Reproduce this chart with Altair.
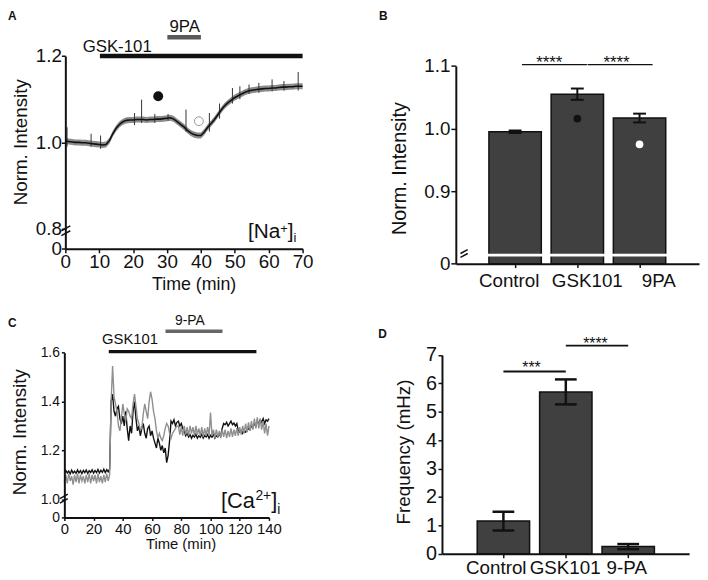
import altair as alt
import pandas as pd

W, H = 700, 572
FONT = "Liberation Sans"
INK = "#111111"
BAR = "#404040"

# ================= DATA =================
# ---- Panel A : [Na+]i imaging trace ----
a_time = list(range(0, 71))
a_norm = [1.003, 1.002, 1.001, 1.000, 1.000, 0.999, 0.999, 0.998, 0.997, 0.996, 0.995,
          0.994, 0.995, 1.004, 1.020, 1.033, 1.042, 1.048, 1.051, 1.052, 1.052,
          1.053, 1.053, 1.053, 1.052, 1.053, 1.053, 1.054, 1.054, 1.055, 1.056,
          1.057, 1.054, 1.048, 1.042, 1.036, 1.028, 1.022, 1.018, 1.016, 1.016,
          1.024, 1.035, 1.044, 1.053, 1.064, 1.075, 1.085, 1.092, 1.098, 1.104,
          1.108, 1.112, 1.116, 1.119, 1.121, 1.122, 1.123, 1.124, 1.125, 1.125,
          1.126, 1.126, 1.127, 1.128, 1.128, 1.129, 1.129, 1.130, 1.130, 1.130]
a_sem = 0.007
a_spike_t = [0.5, 7.6, 10.4, 20.4, 22.5, 26.4, 30.3, 35.6, 42.5, 45.5, 49.3, 51.5, 54.2, 57.1, 61.0, 64.5, 68.7]
a_spike_hi = [1.035, 1.020, 1.016, 1.068, 1.099, 1.066, 1.066, 1.076, 1.068, 1.090, 1.126, 1.130, 1.134, 1.138, 1.146, 1.142, 1.163]
a_spike_lo = [0.990, 0.990, 0.985, 1.040, 1.045, 1.045, 1.050, 1.025, 1.025, 1.055, 1.090, 1.100, 1.112, 1.115, 1.118, 1.120, 1.120]
a_tick_x = [0, 10, 20, 30, 40, 50, 60, 70]
a_tick_y = [0.7535, 0.8, 1.0, 1.2]
a_drug = ["GSK-101", "9PA"]
a_drug_on = [10.2, 30.1]
a_drug_off = [70.0, 40.0]
a_drug_lvl = [1.2, 1.2435]
a_drug_lbl_x = [15.3, 35.2]
a_drug_lbl_y = [1.2092, 1.255]
a_mark_t = [27.4, 39.4]
a_mark_v = [1.107, 1.049]
a_ion_txt = ["[Na", "+", "]", "i"]
a_ion_x = [53.9, 63.4, 65.6, 67.3]
a_ion_y = [0.7787, 0.790, 0.7787, 0.7686]
a_brk_x1 = [-1.17, -1.17]
a_brk_x2 = [1.46, 1.46]
a_brk_y1 = [0.7954, 0.7840]
a_brk_y2 = [0.8068, 0.7954]

# ---- Panel B : Norm. intensity bars ----
b_group = ["Control", "GSK101", "9PA"]
b_pos = [0, 1, 2]
b_mean = [0.995, 1.055, 1.017]
b_sem = [0.002, 0.009, 0.007]
b_base = 0.785
b_tick_y = [0.785, 0.9, 1.0, 1.1]
b_dot_pos = [1, 2]
b_dot_val = [1.016, 0.975]
b_dot_fill = [INK, "#ffffff"]
b_lbl_x = [-0.096, 1.16, 2.31]
b_lbl_y = 0.7472
b_sig_from = [0.11, 1.165]
b_sig_to = [1.154, 2.21]
b_sig_lvl = [1.102, 1.102]
b_star = ["****", "****"]
b_star_x = [0.55, 1.63]
b_star_y = [1.0965, 1.0965]
b_gap_lo, b_gap_hi = 0.7965, 0.8007
b_brk_x1 = [-0.878, -0.878]
b_brk_x2 = [-0.762, -0.762]
b_brk_y1 = [0.8012, 0.7949]
b_brk_y2 = [0.8075, 0.8012]

# ---- Panel C : [Ca2+]i traces ----
c_time = list(range(0, 141))
c_black = [1.106, 1.118, 1.108, 1.116, 1.104, 1.119, 1.107, 1.115, 1.106, 1.120, 1.108, 1.117, 1.105, 1.118, 1.109, 1.120,
           1.106, 1.117, 1.110, 1.121, 1.107, 1.118, 1.109, 1.122, 1.108, 1.119, 1.110, 1.123, 1.109, 1.121, 1.112,
           1.125, 1.400, 1.430, 1.360, 1.340, 1.370, 1.380, 1.330, 1.310, 1.340,
           1.300, 1.360, 1.290, 1.240, 1.300, 1.270, 1.360, 1.400, 1.330, 1.280,
           1.300, 1.260, 1.290, 1.310, 1.270, 1.250, 1.290, 1.300, 1.260, 1.280,
           1.250, 1.230, 1.210, 1.250, 1.230, 1.200, 1.220, 1.190, 1.210, 1.150,
           1.180, 1.240, 1.320, 1.310, 1.325, 1.300, 1.315, 1.320, 1.300, 1.310,
           1.290, 1.280, 1.260, 1.270, 1.255, 1.265, 1.250, 1.262, 1.255, 1.266,
           1.250, 1.260, 1.254, 1.266, 1.250, 1.261, 1.255, 1.265, 1.250, 1.262,
           1.254, 1.266, 1.250, 1.260, 1.255, 1.265, 1.260, 1.290, 1.310, 1.305,
           1.315, 1.300, 1.310, 1.320, 1.305, 1.312, 1.300, 1.310, 1.280, 1.275,
           1.282, 1.270, 1.285, 1.275, 1.280, 1.290, 1.285, 1.300, 1.295, 1.310,
           1.300, 1.320, 1.310, 1.325, 1.315, 1.330, 1.310, 1.325, 1.320, 1.330]
c_gray = [1.070, 1.100, 1.065, 1.105, 1.075, 1.095, 1.060, 1.100, 1.070, 1.105, 1.065, 1.100, 1.075, 1.095, 1.065, 1.100,
          1.070, 1.105, 1.065, 1.100, 1.075, 1.100, 1.065, 1.105, 1.070, 1.095, 1.065, 1.100, 1.070, 1.105, 1.075,
          1.100, 1.400, 1.545, 1.420, 1.390, 1.360, 1.300, 1.280, 1.330, 1.390,
          1.350, 1.320, 1.370, 1.360, 1.340, 1.330, 1.390, 1.430, 1.380, 1.330,
          1.310, 1.285, 1.290, 1.350, 1.390, 1.360, 1.330, 1.400, 1.440, 1.410,
          1.360, 1.330, 1.280, 1.250, 1.270, 1.250, 1.240, 1.260, 1.290, 1.310,
          1.300, 1.270, 1.250, 1.270, 1.280, 1.290, 1.300, 1.300, 1.265, 1.295,
          1.260, 1.300, 1.265, 1.295, 1.260, 1.300, 1.270, 1.295, 1.260, 1.300,
          1.265, 1.290, 1.260, 1.295, 1.255, 1.290, 1.260, 1.295, 1.260, 1.355,
          1.260, 1.285, 1.250, 1.285, 1.255, 1.280, 1.250, 1.285, 1.255, 1.285,
          1.250, 1.280, 1.255, 1.290, 1.255, 1.285, 1.260, 1.290, 1.260, 1.295,
          1.265, 1.300, 1.270, 1.310, 1.275, 1.315, 1.280, 1.320, 1.285, 1.330,
          1.290, 1.335, 1.290, 1.330, 1.285, 1.320, 1.270, 1.310, 1.260, 1.300]
c_tick_x = [0, 20, 40, 60, 80, 100, 120, 140]
c_tick_y = [0.926, 1.0, 1.2, 1.4, 1.6]
c_drug = ["GSK101", "9-PA"]
c_drug_on = [30.4, 69.2]
c_drug_off = [131.4, 108.2]
c_drug_lvl = [1.604, 1.687]
c_drug_lbl_x = [44.9, 85.9]
c_drug_lbl_y = [1.634, 1.7145]
c_ion_txt = ["[Ca", "2+", "]", "i"]
c_ion_x = [107.1, 130.7, 141.5, 145.6]
c_ion_y = [0.965, 0.996, 0.965, 0.939]
c_brk_x1 = [-3.04, -3.04]
c_brk_x2 = [2.37, 2.37]
c_brk_y1 = [1.0028, 0.9846]
c_brk_y2 = [1.021, 1.0028]

# ---- Panel D : frequency bars ----
d_group = ["Control", "GSK101", "9-PA"]
d_pos = [0, 1, 2]
d_mean = [1.15, 5.70, 0.25]
d_sem = [0.33, 0.44, 0.09]
d_tick_y = [0, 1, 2, 3, 4, 5, 6, 7]
d_lbl_x = [-0.114, 0.989, 1.977]
d_lbl_y = -0.707
d_sig_from = [0.0, 1.0]
d_sig_to = [1.0, 2.0]
d_sig_lvl = [6.42, 7.33]
d_star = ["***", "****"]
d_star_x = [0.45, 1.475]
d_star_y = [6.356, 7.206]

# panel letters (placed in each panel's data space)
letters = ["A", "B", "C", "D"]
letter_x = [-16.9, -2.189, -38.55, -2.0046]
letter_y = [1.3038, 1.1871, 1.7416, 7.92]


# ================= HELPERS =================
def sc(domain, rng):
    return alt.Scale(domain=domain, range=rng, nice=False, zero=False)


def axis(**kw):
    base = dict(grid=False, domainColor=INK, tickColor=INK, labelColor=INK, titleColor=INK,
                labelFont=FONT, titleFont=FONT, titleFontWeight="normal", labelFlush=False,
                labelOverlap=False, labelBound=False, domainWidth=2, tickWidth=1.5, zindex=1)
    base.update(kw)
    return alt.Axis(**base)


class Panel:
    """Holds one panel's scales and axes so that every sub-layer shares them identically."""

    def __init__(self, xs, ys, ax, ay):
        self.xs, self.ys, self.ax, self.ay = xs, ys, ax, ay

    def X(self, f):
        return alt.X(f, type="quantitative", scale=self.xs, axis=self.ax)

    def Y(self, f):
        return alt.Y(f, type="quantitative", scale=self.ys, axis=self.ay)

    def text(self, df, size=None, align="center", baseline="alphabetic", bold=False):
        kw = dict(align=align, baseline=baseline, font=FONT,
                  fontWeight="bold" if bold else "normal", color=INK)
        if size is not None:
            kw["fontSize"] = size
        enc = dict(x=self.X("x"), y=self.Y("y"), text=alt.Text("label:N"))
        if size is None:
            enc["size"] = alt.Size("fs:Q", scale=None)
        return alt.Chart(df).mark_text(**kw).encode(**enc)

    def slashes(self, x1, x2, y1, y2):
        df = pd.DataFrame({"x": x1, "x2": x2, "y": y1, "y2": y2})
        return alt.Chart(df).mark_rule(color=INK, strokeWidth=1.5).encode(
            x=self.X("x"), x2="x2:Q", y=self.Y("y"), y2="y2:Q")


# ================= PANEL A =================
PA = Panel(
    sc([0, 70], [58, 298]),
    sc([0.7535, 1.2], [240.3, 45.3]),
    axis(orient="bottom", offset=240.3 - H, values=a_tick_x, title="Time (min)", labelFontSize=19,
         titleFontSize=18, tickSize=4, labelPadding=0, titleX=187.8, titleY=40.7,
         titleAlign="center", titleBaseline="alphabetic"),
    axis(orient="left", offset=-58, values=a_tick_y, title="Norm. Intensity",
         labelExpr="datum.value < 0.79 ? '0' : format(datum.value, '.1f')",
         labelFontSize=19, titleFontSize=19, tickSize=4, labelPadding=0,
         titleX=-39.3, titleY=132, titleAngle=270, titleAlign="center", titleBaseline="alphabetic"),
)
a_df = pd.DataFrame({"t": a_time, "v": a_norm})
a_df["lo"] = a_df["v"] - a_sem
a_df["hi"] = a_df["v"] + a_sem

a_band = alt.Chart(a_df).mark_area(color="#8c8c8c").encode(x=PA.X("t"), y=PA.Y("lo"), y2="hi:Q")
a_spk = alt.Chart(pd.DataFrame({"t": a_spike_t, "lo": a_spike_lo, "hi": a_spike_hi})).mark_rule(
    color="#333333", strokeWidth=1).encode(x=PA.X("t"), y=PA.Y("lo"), y2="hi:Q")
a_line = alt.Chart(a_df).mark_line(color=INK, strokeWidth=1.6).encode(x=PA.X("t"), y=PA.Y("v"))
a_drugdf = pd.DataFrame({"on": a_drug_on, "off": a_drug_off, "lvl": a_drug_lvl, "col": [INK, "#5a5a5a"]})
a_bars = alt.Chart(a_drugdf).mark_rule(strokeWidth=4.5).encode(
    x=PA.X("on"), x2="off:Q", y=PA.Y("lvl"), color=alt.Color("col:N", scale=None))
a_dot1 = alt.Chart(pd.DataFrame({"t": a_mark_t[:1], "v": a_mark_v[:1]})).mark_point(
    shape="circle", filled=True, size=100, color=INK, opacity=1).encode(x=PA.X("t"), y=PA.Y("v"))
a_dot2 = alt.Chart(pd.DataFrame({"t": a_mark_t[1:], "v": a_mark_v[1:]})).mark_point(
    shape="circle", filled=False, size=80, color="#999999", strokeWidth=1, opacity=1).encode(
    x=PA.X("t"), y=PA.Y("v"))
a_lbl = PA.text(pd.DataFrame({"x": a_drug_lbl_x, "y": a_drug_lbl_y, "label": a_drug}), 17)
a_ion = PA.text(pd.DataFrame({"x": a_ion_x, "y": a_ion_y, "label": a_ion_txt, "fs": [21, 13, 21, 13]}),
                align="left")
a_brk = PA.slashes(a_brk_x1, a_brk_x2, a_brk_y1, a_brk_y2)
a_let = PA.text(pd.DataFrame({"x": letter_x[:1], "y": letter_y[:1], "label": letters[:1]}),
                12, align="left", baseline="top", bold=True)
panelA = alt.layer(a_band, a_spk, a_line, a_bars, a_dot1, a_dot2, a_lbl, a_ion, a_brk, a_let)

# ================= PANEL B =================
PB = Panel(
    sc([-0.8735, 2.8765], [453, 699]),
    sc([0.785, 1.1], [255.3, 55.3]),
    axis(orient="bottom", offset=255.3 - H, values=b_pos, labels=False, title=None, tickSize=4),
    axis(orient="left", offset=-453, values=b_tick_y, title="Norm. Intensity",
         labelExpr="datum.value < 0.8 ? '0' : format(datum.value, '.1f')",
         labelFontSize=19, titleFontSize=20, tickSize=5, labelPadding=1,
         titleX=-51, titleY=158.7, titleAngle=270, titleAlign="center", titleBaseline="alphabetic"),
)
b_df = pd.DataFrame({"x": b_pos, "m": b_mean, "base": [b_base] * 3,
                     "lo": [m - e for m, e in zip(b_mean, b_sem)],
                     "hi": [m + e for m, e in zip(b_mean, b_sem)],
                     "glo": [b_gap_lo] * 3, "ghi": [b_gap_hi] * 3})
b_bar = alt.Chart(b_df).mark_bar(width=53, color=BAR, stroke=INK, strokeWidth=1.5).encode(
    x=PB.X("x"), y=PB.Y("m"), y2="base:Q")
b_gap = alt.Chart(b_df).mark_bar(width=57, color="#ffffff").encode(x=PB.X("x"), y=PB.Y("glo"), y2="ghi:Q")
b_err = alt.Chart(b_df).mark_rule(color=INK, strokeWidth=2).encode(x=PB.X("x"), y=PB.Y("lo"), y2="hi:Q")
b_cap1 = alt.Chart(b_df).mark_tick(orient="horizontal", size=13, thickness=2, color=INK, opacity=1).encode(
    x=PB.X("x"), y=PB.Y("hi"))
b_cap2 = alt.Chart(b_df).mark_tick(orient="horizontal", size=13, thickness=2, color=INK, opacity=1).encode(
    x=PB.X("x"), y=PB.Y("lo"))
b_dots = alt.Chart(pd.DataFrame({"x": b_dot_pos, "v": b_dot_val, "f": b_dot_fill})).mark_point(
    shape="circle", filled=True, size=60, opacity=1, strokeWidth=0).encode(
    x=PB.X("x"), y=PB.Y("v"), color=alt.Color("f:N", scale=None))
b_sig = alt.Chart(pd.DataFrame({"x": b_sig_from, "x2": b_sig_to, "y": b_sig_lvl})).mark_rule(
    color=INK, strokeWidth=1.2).encode(x=PB.X("x"), x2="x2:Q", y=PB.Y("y"))
b_stars = PB.text(pd.DataFrame({"x": b_star_x, "y": b_star_y, "label": b_star}), 17)
b_lbl = PB.text(pd.DataFrame({"x": b_lbl_x, "y": [b_lbl_y] * 3, "label": b_group}), 19)
b_brk = PB.slashes(b_brk_x1, b_brk_x2, b_brk_y1, b_brk_y2)
b_let = PB.text(pd.DataFrame({"x": letter_x[1:2], "y": letter_y[1:2], "label": letters[1:2]}),
                12, align="left", baseline="top", bold=True)
panelB = alt.layer(b_bar, b_gap, b_err, b_cap1, b_cap2, b_dots, b_sig, b_stars, b_lbl, b_brk, b_let)

# ================= PANEL C =================
PC = Panel(
    sc([0, 140], [57, 264]),
    sc([0.926, 1.6], [512, 345.3]),
    axis(orient="bottom", offset=512 - H, values=c_tick_x, title="Time (min)", labelFontSize=15,
         titleFontSize=15, tickSize=3, labelPadding=1, titleX=174.5, titleY=31.7,
         titleAlign="center", titleBaseline="alphabetic"),
    axis(orient="left", offset=-57, values=c_tick_y, title="Norm. Intensity",
         labelExpr="datum.value < 0.99 ? '0' : format(datum.value, '.1f')",
         labelFontSize=14, titleFontSize=19, tickSize=3, labelPadding=2,
         titleX=-39, titleY=425.3, titleAngle=270, titleAlign="center", titleBaseline="alphabetic"),
)
c_df = pd.DataFrame({"t": c_time, "k": c_black, "g": c_gray})
c_blk = alt.Chart(c_df).mark_line(color=INK, strokeWidth=1.4).encode(x=PC.X("t"), y=PC.Y("k"))
c_gry = alt.Chart(c_df).mark_line(color="#8f8f8f", strokeWidth=1.4).encode(x=PC.X("t"), y=PC.Y("g"))
c_drugdf = pd.DataFrame({"on": c_drug_on, "off": c_drug_off, "lvl": c_drug_lvl, "col": [INK, "#666666"]})
c_bars = alt.Chart(c_drugdf).mark_rule(strokeWidth=3.5).encode(
    x=PC.X("on"), x2="off:Q", y=PC.Y("lvl"), color=alt.Color("col:N", scale=None))
c_lbl = PC.text(pd.DataFrame({"x": c_drug_lbl_x, "y": c_drug_lbl_y, "label": c_drug, "fs": [15, 14]}))
c_ion = PC.text(pd.DataFrame({"x": c_ion_x, "y": c_ion_y, "label": c_ion_txt, "fs": [22, 14, 22, 14]}),
                align="left")
c_brk = PC.slashes(c_brk_x1, c_brk_x2, c_brk_y1, c_brk_y2)
c_let = PC.text(pd.DataFrame({"x": letter_x[2:3], "y": letter_y[2:3], "label": letters[2:3]}),
                12, align="left", baseline="top", bold=True)
panelC = alt.layer(c_blk, c_gry, c_bars, c_lbl, c_ion, c_brk, c_let)

# ================= PANEL D =================
PD = Panel(
    sc([-0.905, 2.897], [439, 689]),
    sc([0, 7], [548.7, 347.7]),
    axis(orient="bottom", offset=548.7 - H, values=d_pos, labels=False, title=None, tickSize=4),
    axis(orient="left", offset=-439, values=d_tick_y, title="Frequency (mHz)",
         labelFontSize=20, titleFontSize=19, tickSize=4, labelPadding=1.5,
         titleX=-33, titleY=445.3, titleAngle=270, titleAlign="center", titleBaseline="alphabetic"),
)
d_df = pd.DataFrame({"x": d_pos, "m": d_mean, "base": [0.0] * 3,
                     "lo": [m - e for m, e in zip(d_mean, d_sem)],
                     "hi": [m + e for m, e in zip(d_mean, d_sem)]})
d_bar = alt.Chart(d_df).mark_bar(width=53, color=BAR, stroke=INK, strokeWidth=1.5).encode(
    x=PD.X("x"), y=PD.Y("m"), y2="base:Q")
d_err = alt.Chart(d_df).mark_rule(color=INK, strokeWidth=2.5).encode(x=PD.X("x"), y=PD.Y("lo"), y2="hi:Q")
d_cap1 = alt.Chart(d_df).mark_tick(orient="horizontal", size=22, thickness=2.5, color=INK, opacity=1).encode(
    x=PD.X("x"), y=PD.Y("hi"))
d_cap2 = alt.Chart(d_df).mark_tick(orient="horizontal", size=22, thickness=2.5, color=INK, opacity=1).encode(
    x=PD.X("x"), y=PD.Y("lo"))
d_sig = alt.Chart(pd.DataFrame({"x": d_sig_from, "x2": d_sig_to, "y": d_sig_lvl})).mark_rule(
    color=INK, strokeWidth=2).encode(x=PD.X("x"), x2="x2:Q", y=PD.Y("y"))
d_stars = PD.text(pd.DataFrame({"x": d_star_x, "y": d_star_y, "label": d_star}), 16)
d_lbl = PD.text(pd.DataFrame({"x": d_lbl_x, "y": [d_lbl_y] * 3, "label": d_group}), 19)
d_let = PD.text(pd.DataFrame({"x": letter_x[3:], "y": letter_y[3:], "label": letters[3:]}),
                12, align="left", baseline="top", bold=True)
panelD = alt.layer(d_bar, d_err, d_cap1, d_cap2, d_sig, d_stars, d_lbl, d_let)

# ================= COMPOSE =================
chart = alt.layer(panelA, panelB, panelC, panelD).resolve_scale(
    x="independent", y="independent"
).properties(
    width=W, height=H, padding=0, autosize=alt.AutoSizeParams(type="none"), background="white"
).configure(font=FONT).configure_view(strokeWidth=0, stroke="transparent")

chart.save("out.html", embed_options={"renderer": "svg", "actions": False})
